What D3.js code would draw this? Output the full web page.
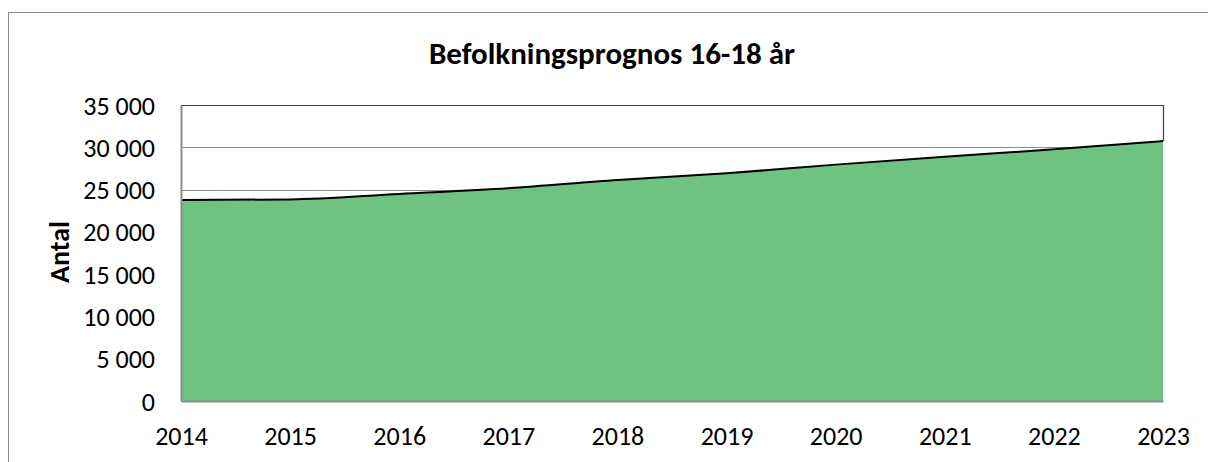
<!DOCTYPE html>
<html>
<head>
<meta charset="utf-8">
<script src="https://cdn.jsdelivr.net/npm/d3@7"></script>
<style>
  body { margin: 0; background: #fff; }
  svg text { font-family: Carlito, Calibri, Lato, "Open Sans", sans-serif; fill: #000; }
</style>
</head>
<body>
<div id="chart"></div>
<script>
const years = [2014, 2015, 2016, 2017, 2018, 2019, 2020, 2021, 2022, 2023];
const values = [23770, 23830, 24480, 25150, 26130, 26920, 27950, 28890, 29760, 30740];
const yTicks = [0, 5000, 10000, 15000, 20000, 25000, 30000, 35000];
const title = "Befolkningsprognos 16-18 år";
const yTitle = "Antal";

const W = 1208, H = 462;
const plot = { left: 181, right: 1163, top: 105, bottom: 401 };

const data = years.map((y, i) => ({ year: y, value: values[i] }));

const svg = d3.select("#chart").append("svg").attr("width", W).attr("height", H);

// outer chart frame
svg.append("rect")
  .attr("x", 8.5).attr("y", 12.5)
  .attr("width", W).attr("height", H)
  .attr("fill", "#fff").attr("stroke", "#8c8c8c").attr("stroke-width", 1);

const x = d3.scaleLinear().domain([2014, 2023]).range([plot.left, plot.right]);
const y = d3.scaleLinear().domain([0, 35000]).range([plot.bottom, plot.top]);

const fmt = v => d3.format(",")(v).replace(/,/g, " ");

// gridlines
svg.append("g")
  .selectAll("line")
  .data(yTicks.filter(d => d > 0 && d < 35000))
  .join("line")
  .attr("x1", plot.left).attr("x2", plot.right)
  .attr("y1", d => Math.round(y(d)) + 0.5).attr("y2", d => Math.round(y(d)) + 0.5)
  .attr("stroke", "#8c8c8c").attr("stroke-width", 1);

// area
const area = d3.area()
  .x(d => x(d.year))
  .y0(y(0))
  .y1(d => y(d.value))
  .curve(d3.curveMonotoneX);

svg.append("path")
  .datum(data)
  .attr("d", area)
  .attr("fill", "#6fc380");

const line = d3.line()
  .x(d => x(d.year))
  .y(d => y(d.value))
  .curve(d3.curveMonotoneX);

svg.append("path")
  .datum(data)
  .attr("d", line)
  .attr("fill", "none")
  .attr("stroke", "#000")
  .attr("stroke-width", 2);

// plot border: top + right dark
svg.append("path")
  .attr("d", `M${plot.left},${plot.top + 0.5}H${plot.right + 0.5}V${y(values[values.length - 1])}`)
  .attr("fill", "none").attr("stroke", "#404040").attr("stroke-width", 1.2);

// axes
const gy = svg.append("g").attr("transform", `translate(${plot.left},0)`)
  .call(d3.axisLeft(y).tickValues(yTicks).tickFormat(fmt).tickSize(0).tickPadding(26));
gy.select(".domain").attr("stroke", "#8c8c8c").attr("stroke-width", 2);
gy.selectAll("text").style("font-size", "26px").attr("dy", "0.35em");

const gx = svg.append("g").attr("transform", `translate(0,${plot.bottom})`)
  .call(d3.axisBottom(x).tickValues(years).tickFormat(d3.format("d")).tickSize(0));
gx.select(".domain").attr("stroke", "#8c8c8c").attr("stroke-width", 2);
gx.selectAll("text").style("font-size", "26px").attr("y", 35).attr("dy", "0.35em");

// title
svg.append("text")
  .attr("x", 612).attr("y", 64)
  .attr("text-anchor", "middle")
  .style("font-size", "31px").style("font-weight", "bold")
  .text(title);

svg.append("text")
  .attr("transform", `translate(59,252) rotate(-90)`)
  .attr("text-anchor", "middle")
  .attr("dy", "0.35em")
  .style("font-size", "28px").style("font-weight", "bold")
  .text(yTitle);
</script>
</body>
</html>
